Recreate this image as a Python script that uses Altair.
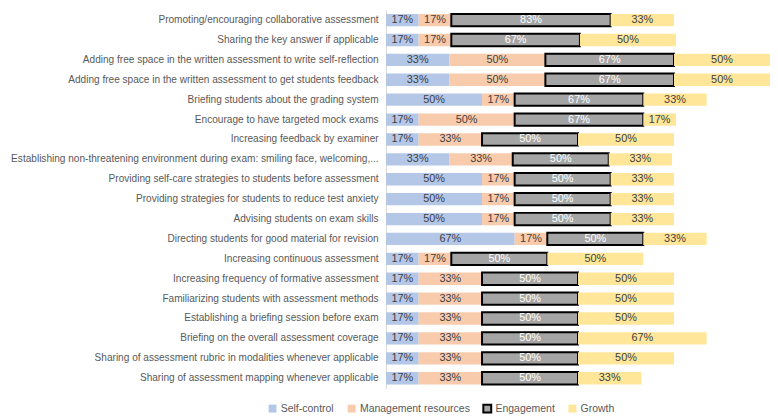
import altair as alt
import pandas as pd

labels = [
    "Promoting/encouraging collaborative assessment",
    "Sharing the key answer if applicable",
    "Adding free space in the written assessment to write self-reflection",
    "Adding free space in the written assessment to get students feedback",
    "Briefing students about the grading system",
    "Encourage to have targeted mock exams",
    "Increasing feedback by examiner",
    "Establishing non-threatening environment during exam: smiling face, welcoming,...",
    "Providing self-care strategies to students before assessment",
    "Providing strategies for students to reduce test anxiety",
    "Advising students on exam skills",
    "Directing students for good material for revision",
    "Increasing continuous assessment",
    "Increasing frequency of formative assessment",
    "Familiarizing students with assessment methods",
    "Establishing a briefing session before exam",
    "Briefing on the overall assessment coverage",
    "Sharing of assessment rubric in modalities whenever applicable",
    "Sharing of assessment mapping whenever applicable",
]
self_control = [17, 17, 33, 33, 50, 17, 17, 33, 50, 50, 50, 67, 17, 17, 17, 17, 17, 17, 17]
management = [17, 17, 50, 50, 17, 50, 33, 33, 17, 17, 17, 17, 17, 33, 33, 33, 33, 33, 33]
engagement = [83, 67, 67, 67, 67, 67, 50, 50, 50, 50, 50, 50, 50, 50, 50, 50, 50, 50, 50]
growth = [33, 50, 50, 50, 33, 17, 50, 33, 33, 33, 33, 33, 50, 50, 50, 50, 67, 50, 33]

series_names = ["Self-control", "Management resources", "Engagement", "Growth"]
series_colors = ["#B4C7E7", "#F8CBAD", "#A5A5A5", "#FFE699"]
series_strokes = ["transparent", "transparent", "#000000", "transparent"]

rows = []
for i, lab in enumerate(labels):
    for k, vals in enumerate([self_control, management, engagement, growth]):
        rows.append({"label": lab, "series": series_names[k], "order": k, "value": vals[i]})
df = pd.DataFrame(rows)

FONT = "Liberation Sans, Arial, sans-serif"

base = alt.Chart(df).transform_stack(
    stack="value", groupby=["label"], as_=["v0", "v1"],
    sort=[alt.SortField("order", order="ascending")]
).transform_calculate(
    mid="(datum.v0 + datum.v1) / 2",
    txt="datum.value + '%'"
)

y_enc = alt.Y(
    "label:N", sort=labels,
    scale=alt.Scale(paddingInner=0.38, paddingOuter=0.19),
    axis=alt.Axis(title=None, ticks=False, tickSize=0, labelPadding=8, labelLimit=420,
                  labelFont=FONT, labelFontSize=10.2, labelColor="#595959",
                  domainColor="#D9D9D9", domainWidth=1, grid=False),
)
x_scale = alt.Scale(domain=[0, 200], nice=False, zero=True)

legend_kw = dict(title=None, orient="none", legendX=-120, legendY=397, direction="horizontal",
                 symbolType="square", symbolSize=64, symbolStrokeWidth=2,
                 labelFont=FONT, labelFontSize=10.6, labelColor="#595959",
                 columnPadding=9, labelOffset=3)

bars = base.mark_bar(strokeWidth=2).encode(
    x=alt.X("v0:Q", scale=x_scale, axis=None),
    x2="v1:Q",
    y=y_enc,
    color=alt.Color("series:N", scale=alt.Scale(domain=series_names, range=series_colors),
                    legend=alt.Legend(**legend_kw)),
    stroke=alt.Stroke("series:N", scale=alt.Scale(domain=series_names, range=series_strokes),
                      legend=alt.Legend(**legend_kw)),
)

texts = base.mark_text(font=FONT, fontSize=11).encode(
    x=alt.X("mid:Q", scale=x_scale, axis=None),
    y=y_enc,
    text="txt:N",
    color=alt.condition(alt.datum.series == "Engagement", alt.value("#FFFFFF"), alt.value("#404040")),
)

chart = alt.layer(bars, texts).properties(
    width=388, height=382,
    autosize=alt.AutoSizeParams(type="none"),
    padding={"left": 382, "top": 0, "right": 0, "bottom": 29},
    background="white",
).configure_view(strokeWidth=0)

chart.save("out.html", embed_options={"renderer": "svg", "actions": False})
